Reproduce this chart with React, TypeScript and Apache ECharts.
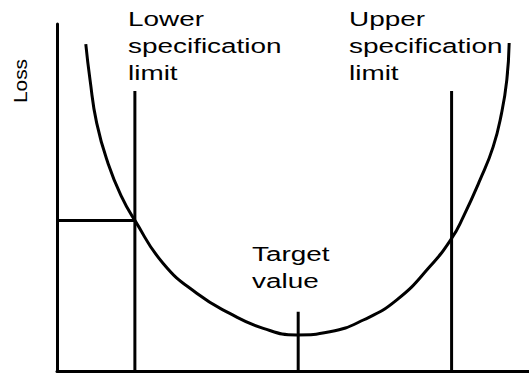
import { useEffect, useRef } from "react";
import * as echarts from "echarts";

// Loss function curve (quality characteristic, loss) in arbitrary units 0..100
const curveX = [6.1, 7.0, 8.4, 10.8, 13.7, 16.5, 22.5, 29.6, 36.6, 43.7, 50.8, 57.8, 64.9, 72.0, 79.0, 83.6, 86.1, 89.6, 92.4, 94.2, 95.3, 95.8];
const curveY = [94.2, 83.9, 71.5, 59.9, 50.2, 43.4, 31.0, 22.4, 16.6, 12.3, 10.4, 11.3, 14.7, 20.5, 30.1, 38.2, 44.5, 55.0, 64.6, 74.4, 83.9, 94.5];

const markerNames = ["Lower specification limit", "Target value", "Upper specification limit"];
const markerX = [16.5, 51.1, 83.6];
const markerTop = [80.7, 17.1, 80.7];

const lossAtLowerLimit = 43.4;

const yAxisTitle = "Loss";
const lowerLabel = ["Lower", "specification", "limit"];
const upperLabel = ["Upper", "specification", "limit"];
const targetLabel = ["Target", "value"];

const FONT = "'Liberation Sans', Arial, Helvetica, sans-serif";

export default function App() {
  const ref = useRef<HTMLDivElement>(null);
  useEffect(() => {
    if (!ref.current) return;
    const chart = echarts.init(ref.current, undefined, { renderer: "svg" });
    const black = "#000";
    const lineStyle = { color: black, width: 3, cap: "butt" as const };

    const markerSeries = markerNames.map((name, i) => ({
      name,
      type: "line" as const,
      data: [
        [markerX[i], 0],
        [markerX[i], markerTop[i]],
      ],
      symbol: "none",
      lineStyle,
      silent: true,
    }));

    const textLines = (lines: string[], x: number, y0: number) =>
      lines.map((t, i) => ({
        type: "text",
        x,
        y: y0 + i * 26.7,
        scaleX: 1.33,
        style: {
          text: t,
          fill: "#000",
          font: `21px ${FONT}`,
          align: "left",
          verticalAlign: "middle",
        },
      }));

    chart.setOption({
      animation: false,
      backgroundColor: "#fff",
      textStyle: { fontFamily: FONT },
      grid: { left: 57, right: 0, top: 24, bottom: 5 },
      xAxis: {
        type: "value",
        min: 0,
        max: 100,
        axisLine: { show: true, lineStyle: { color: black, width: 3 } },
        axisTick: { show: false },
        axisLabel: { show: false },
        splitLine: { show: false },
      },
      yAxis: {
        type: "value",
        min: 0,
        max: 100,
        axisLine: { show: true, lineStyle: { color: black, width: 3 } },
        axisTick: { show: false },
        axisLabel: { show: false },
        splitLine: { show: false },
      },
      series: [
        {
          name: "Loss",
          type: "line",
          data: curveX.map((x, i) => [x, curveY[i]]),
          smooth: 0.5,
          symbol: "none",
          lineStyle,
          silent: true,
        },
        ...markerSeries,
        {
          name: "Loss at lower limit",
          type: "line",
          data: [
            [0, lossAtLowerLimit],
            [markerX[0], lossAtLowerLimit],
          ],
          symbol: "none",
          lineStyle,
          silent: true,
        },
      ],
      graphic: [
        {
          type: "text",
          x: 20,
          y: 81,
          rotation: Math.PI / 2,
          scaleX: 1.1,
          style: {
            text: yAxisTitle,
            fill: "#000",
            font: `19px ${FONT}`,
            align: "center",
            verticalAlign: "middle",
          },
        },
        ...textLines(lowerLabel, 128, 19.2),
        ...textLines(upperLabel, 349, 19.2),
        ...textLines(targetLabel, 252, 254.2),
      ],
    });
    return () => chart.dispose();
  }, []);
  return (
    <div
      ref={ref}
      style={{ position: "fixed", left: 0, top: 0, width: 529, height: 376 }}
    />
  );
}
